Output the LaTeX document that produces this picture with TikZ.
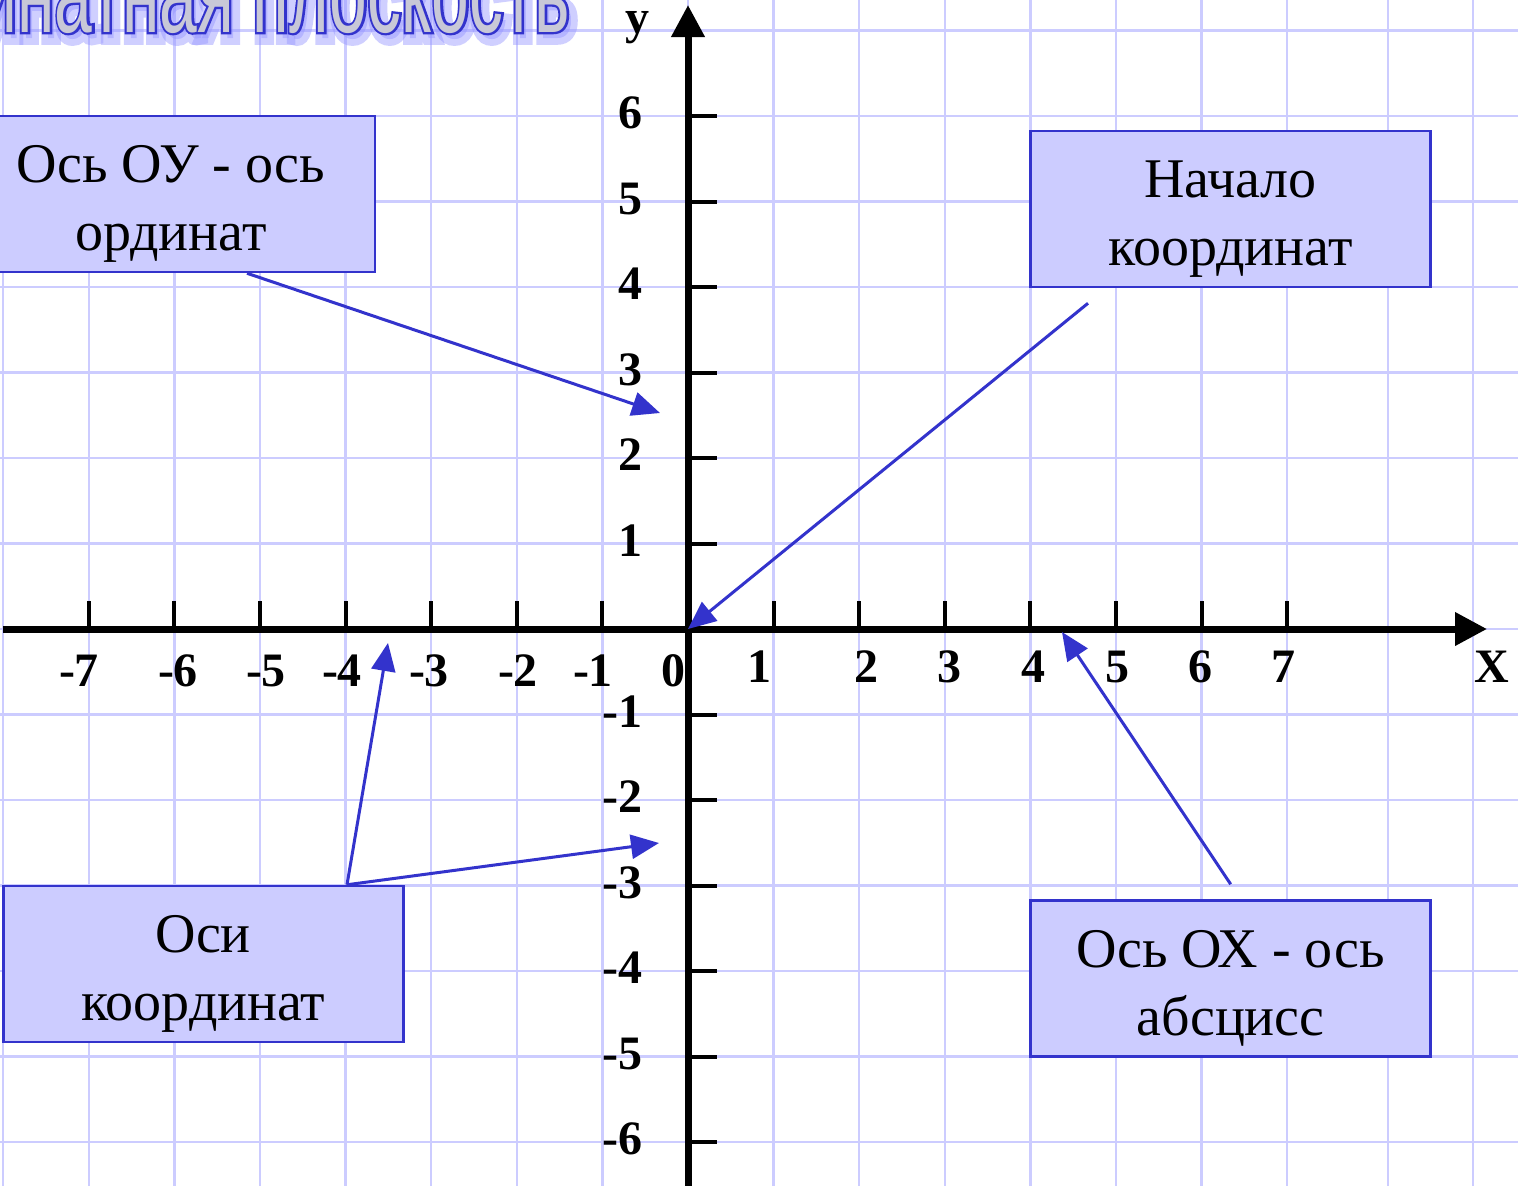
\documentclass[tikz,border=0pt]{standalone}
\usepackage{fontspec}
\setmainfont{Liberation Serif}
\newfontfamily\titlefont[FakeStretch=0.6]{Liberation Sans}
\newfontfamily\titleoutline[FakeStretch=0.6,FakeBold=4]{Liberation Sans}
\newfontfamily\titleglow[FakeStretch=0.6,FakeBold=12]{Liberation Sans}
\usetikzlibrary{arrows.meta,calc}
\definecolor{gridc}{RGB}{204,204,255}
\definecolor{boxfill}{RGB}{204,204,255}
\definecolor{boxline}{RGB}{51,51,204}
\definecolor{arrowc}{RGB}{51,51,204}
\definecolor{titlefill}{RGB}{200,200,215}
\definecolor{glowc}{RGB}{150,150,255}
\begin{document}
\begin{tikzpicture}[x=1pt,y=-1pt,
  gridline/.style={draw=gridc,line width=2.5pt},
  axisline/.style={line width=7pt,-{Triangle[length=32pt,width=32pt]}},
  tickmark/.style={line width=4pt},
  ticklabel/.style={font=\fontsize{48}{58}\selectfont\bfseries,inner sep=0pt},
  infobox/.style={draw=boxline,fill=boxfill,line width=2.5pt,minimum width=400pt,minimum height=156pt,inner sep=0pt},
  infotext/.style={font=\fontsize{56}{68}\selectfont,align=center,inner sep=0pt},
  pointer/.style={draw=arrowc,line width=3pt,-{Triangle[length=28pt,width=24pt]}},
  titletext/.style={inner sep=0pt,anchor=base east}
]
\path[use as bounding box] (0,0) rectangle (1518,1186);
\clip (0,0) rectangle (1518,1186);
\fill[white] (0,0) rectangle (1518,1186);
% grid
\foreach \x in {3.2,88.8,174.4,260,345.6,431.2,516.8,602.4,688,773.6,859.2,944.8,1030.4,1116,1201.6,1287.2,1388,1473}
  \draw[gridline] (\x,0) -- (\x,1186);
\foreach \y in {30.5,116,201.5,287,372.5,458,543.5,629,714.5,800,885.5,971,1056.5,1142}
  \draw[gridline] (0,\y) -- (1518,\y);
% title
\node[titletext,font=\titleglow\fontsize{113}{113}\selectfont,text=glowc,opacity=0.45] (titleg) at (574,38) {Координатная плоскость};
\node[titletext,font=\titleoutline\fontsize{113}{113}\selectfont,text=boxline] (titleo) at (570,32) {Координатная плоскость};
\node[titletext,font=\titlefont\fontsize{113}{113}\selectfont,text=titlefill] (title) at (570,32) {Координатная плоскость};
% axes
\coordinate (xs) at (3,629);
\coordinate (xe) at (1487,629);
\coordinate (ys) at (688,1186);
\coordinate (ye) at (688,5);
\draw[axisline] (xs) -- (xe);
\draw[axisline] (ys) -- (ye);
% ticks
\foreach \x in {88.8,174.4,260,345.6,431.2,516.8,602.4,773.6,859.2,944.8,1030.4,1116,1201.6,1287.2}
  \draw[tickmark] (\x,629) -- (\x,601);
\foreach \y in {116,201.5,287,372.5,458,543.5,714.5,800,885.5,971,1056.5,1142}
  \draw[tickmark] (688,\y) -- (717,\y);
% tick labels
\foreach \t/\y [count=\k] in {6/116,5/201.5,4/287,3/372.5,2/458,1/543.5,-1/714.5,-2/800,-3/885.5,-4/971,-5/1056.5,-6/1142}
  \node[ticklabel,anchor=base east] (yl\k) at (643,\y+12.5) {\t};
\foreach \t/\x [count=\k] in {-7/79,-6/178,-5/266,-4/342,-3/429,-2/518,-1/593,0/673}
  \node[ticklabel,anchor=base] (xn\k) at (\x,686) {\t};
\foreach \t/\x [count=\k] in {1/759,2/866,3/949,4/1033,5/1117,6/1200,7/1283}
  \node[ticklabel,anchor=base] (xp\k) at (\x,682) {\t};
\node[ticklabel,anchor=base] (ylab) at (637,33) {y};
\node[ticklabel,anchor=base] (xlab) at (1492,682) {X};
% boxes
\node[infobox,minimum width=408pt] (b1) at (171,194) {};
\node[infotext] (b1t) at ([yshift=-10pt]b1.center) {Ось ОУ - ось\\ординат};
\node[infobox] (b2) at (1230.7,209) {};
\node[infotext] (b2t) at ([yshift=-10pt]b2.center) {Начало\\координат};
\node[infobox] (b3) at (1230.7,978.5) {};
\node[infotext] (b3t) at ([yshift=-10pt]b3.center) {Ось ОХ - ось\\абсцисс};
\node[infobox] (b4) at (203.3,964) {};
\node[infotext] (b4t) at ([yshift=-10pt]b4.center) {Оси\\координат};
% pointers
\coordinate (O) at (688,629);
\coordinate (t1) at (660,413);
\coordinate (t3) at (388,643);
\coordinate (t4) at (659,843);
\coordinate (t5) at (1062,632);
\draw[pointer] ([xshift=76pt]b1.south) -- (t1);
\draw[pointer] ([xshift=-142.7pt,yshift=-15pt]b2.south) -- (O);
\draw[pointer] ([xshift=143.7pt]b4.north) -- (t3);
\draw[pointer] ([xshift=143.7pt]b4.north) -- (t4);
\draw[pointer] ([yshift=15pt]b3.north) -- (t5);
\end{tikzpicture}
\end{document}
